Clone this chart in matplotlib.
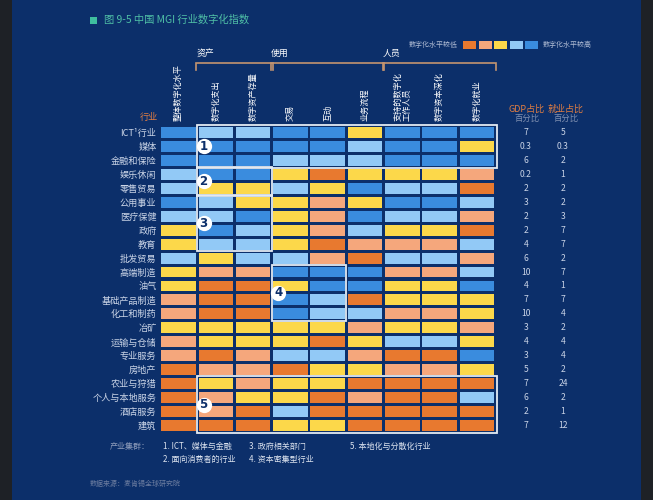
import matplotlib
matplotlib.use("Agg")
import matplotlib.pyplot as plt
import matplotlib.transforms as mtransforms
from matplotlib.patches import Rectangle
import numpy as np

plt.rcParams['font.family'] = ['Noto Sans CJK SC', 'DejaVu Sans']

# ---------------- data ----------------
title = "图 9-5 中国 MGI 行业数字化指数"
industries = ["ICT¹行业", "媒体", "金融和保险", "娱乐休闲", "零售贸易", "公用事业",
              "医疗保健", "政府", "教育", "批发贸易", "高端制造", "油气",
              "基础产品制造", "化工和制药", "冶矿", "运输与仓储", "专业服务",
              "房地产", "农业与狩猎", "个人与本地服务", "酒店服务", "建筑"]
columns = ["整体数字化水平", "数字化支出", "数字资产存量", "交易", "互动", "业务流程",
           "支持的数字化\n工作人员", "数字资本深化", "数字化就业"]
groups = ["资产", "使用", "人员"]
group_spans = [(1, 2), (3, 5), (6, 8)]

# level 1 = lowest digitisation (orange) ... 5 = highest (blue)
lvl_overall   = [5, 5, 5, 4, 4, 5, 4, 3, 3, 4, 3, 3, 2, 2, 3, 2, 2, 1, 1, 1, 1, 1]
lvl_spend     = [4, 5, 5, 5, 3, 4, 4, 5, 4, 3, 2, 1, 1, 1, 3, 3, 1, 2, 3, 2, 2, 1]
lvl_assets    = [4, 5, 5, 5, 3, 3, 5, 4, 4, 4, 2, 1, 1, 1, 3, 3, 2, 2, 2, 3, 1, 1]
lvl_trans     = [5, 5, 4, 3, 4, 3, 3, 3, 3, 4, 5, 3, 5, 5, 3, 3, 4, 1, 3, 3, 4, 3]
lvl_interact  = [5, 5, 4, 1, 3, 2, 2, 2, 1, 2, 5, 5, 4, 4, 3, 1, 4, 3, 3, 1, 1, 3]
lvl_process   = [3, 4, 4, 3, 5, 3, 5, 4, 2, 1, 5, 5, 1, 4, 2, 3, 2, 3, 1, 2, 1, 1]
lvl_workers   = [5, 5, 5, 3, 4, 5, 4, 3, 2, 4, 2, 3, 3, 2, 3, 4, 1, 2, 1, 1, 1, 1]
lvl_capital   = [5, 5, 5, 3, 4, 5, 4, 3, 2, 4, 2, 3, 3, 2, 3, 4, 1, 2, 1, 1, 1, 1]
lvl_employ    = [5, 3, 5, 2, 1, 4, 2, 1, 4, 2, 4, 5, 3, 3, 2, 3, 5, 3, 1, 4, 1, 1]
levels = [lvl_overall, lvl_spend, lvl_assets, lvl_trans, lvl_interact,
          lvl_process, lvl_workers, lvl_capital, lvl_employ]

gdp_share = [7, 0.3, 6, 0.2, 2, 3, 2, 2, 4, 6, 10, 4, 7, 10, 3, 4, 3, 5, 7, 6, 2, 7]
emp_share = [5, 0.3, 2, 1, 2, 2, 3, 7, 7, 2, 7, 1, 7, 4, 2, 4, 4, 2, 24, 2, 1, 12]

# clusters: (first col, last col, first row, last row, label)
clusters = [(1, 8, 0, 2, "1"), (1, 2, 3, 4, "2"), (1, 2, 5, 8, "3"),
            (3, 4, 10, 13, "4"), (1, 8, 18, 21, "5")]
cluster_names = ["1. ICT、媒体与金融", "2. 面向消费者的行业", "3. 政府相关部门",
                 "4. 资本密集型行业", "5. 本地化与分散化行业"]

# ---------------- style ----------------
palette = {1: "#E8792F", 2: "#F5A77C", 3: "#FCD84A", 4: "#92C9F6", 5: "#3A8CDE"}
navy = "#0C2F6A"
W, H = 653, 500

fig = plt.figure(figsize=(W / 100, H / 100), dpi=100, facecolor=navy)
for (a, b) in [(0, 12), (641, W)]:
    fig.patches.append(Rectangle((a / W, 0), (b - a) / W, 1, transform=fig.transFigure,
                                 facecolor="#1E2126", edgecolor="none", zorder=-10))


def fx(px):
    return px / W


def fy(py):
    return 1 - py / H


# grid axes
left_px, right_px = 159.9, 495.6
top_px, bot_px = 125.5, 432.5
ax = fig.add_axes([fx(left_px), fy(bot_px), (right_px - left_px) / W, (bot_px - top_px) / H])
ax.set_facecolor("none")
n = len(industries)
ax.set_xlim(-0.5, len(columns) - 0.5)
ax.set_ylim(n - 0.5, -0.5)
for s in ax.spines.values():
    s.set_visible(False)

rows = np.arange(n)
for j, col in enumerate(levels):
    ax.bar(np.full(n, j), 0.78, bottom=rows - 0.39, width=0.93,
           color=[palette[v] for v in col], edgecolor="none", zorder=2)

ax.set_xticks([])
ax.set_yticks(rows)
ax.set_yticklabels(industries, fontsize=6.6, color="#CBD5E7")
ax.tick_params(axis="y", length=0, pad=2.5)

# column labels (vertical)
bt = mtransforms.blended_transform_factory(ax.transData, fig.transFigure)
for j, name in enumerate(columns):
    ax.text(j, fy(121), name, transform=bt, rotation=90, ha="center", va="bottom",
            fontsize=5.9, color="white", multialignment="left", linespacing=1.0)

# group headers and brackets
bracket_color = "#C49470"
for g, (a, b) in zip(groups, group_spans):
    x0, x1 = a - 0.52, b + 0.52
    ax.plot([x0, x0, x1, x1], [fy(70), fy(63), fy(63), fy(70)], transform=bt,
            color=bracket_color, lw=1.2, clip_on=False, solid_joinstyle="miter")
    ax.text(x0, fy(53), g, transform=bt, ha="left", va="center", fontsize=6.4, color="white")

# cluster boxes
for (c0, c1, r0, r1, lab) in clusters:
    x0, x1 = c0 - 0.5, c1 + 0.5 + (0.04 if c1 == len(columns) - 1 else 0)
    y0, y1 = r0 - 0.52, r1 + 0.52
    ax.add_patch(Rectangle((x0, y0), x1 - x0, y1 - y0, fill=False, edgecolor="#E4EBF3",
                           lw=1.3, zorder=4, clip_on=False))
    cy = (r0 + r1) / 2
    ax.plot([x0 + 0.17], [cy], marker="o", markersize=11, color="white",
            markeredgecolor="none", zorder=5, clip_on=False)
    ax.text(x0 + 0.17, cy, lab, ha="center", va="center", fontsize=8.5,
            fontweight="bold", color=navy, zorder=6, family=["DejaVu Sans"])

# right-hand share columns
rt = mtransforms.blended_transform_factory(fig.transFigure, ax.transData)
for i in range(n):
    ax.text(fx(526), i, f"{gdp_share[i]:g}", transform=rt, ha="center", va="center",
            fontsize=6.2, color="#C9D3E6")
    ax.text(fx(563), i, f"{emp_share[i]:g}", transform=rt, ha="center", va="center",
            fontsize=6.2, color="#C9D3E6")

orange_txt = "#E07D42"
fig.text(fx(527), fy(109), "GDP占比", ha="center", va="center", fontsize=6.5, color=orange_txt)
fig.text(fx(566), fy(109), "就业占比", ha="center", va="center", fontsize=6.5, color=orange_txt)
fig.text(fx(527), fy(118), "百分比", ha="center", va="center", fontsize=6, color="#7F8FB0")
fig.text(fx(566), fy(118), "百分比", ha="center", va="center", fontsize=6, color="#7F8FB0")
fig.text(fx(158), fy(117), "行业", ha="right", va="center", fontsize=6.6, color=orange_txt)

# title
fig.patches.append(Rectangle((fx(90), fy(24)), 7 / W, 7 / H, transform=fig.transFigure,
                             facecolor="#3FBF9F", edgecolor="none"))
fig.text(fx(104), fy(20), title, ha="left", va="center", fontsize=7.4, color="#4FBFA6")

# legend
fig.text(fx(458), fy(45), "数字化水平较低", ha="right", va="center", fontsize=5, color="#AFBBD3")
for k in range(1, 6):
    fig.patches.append(Rectangle((fx(463 + (k - 1) * 15.5), fy(49)), 13 / W, 8 / H,
                                 transform=fig.transFigure, facecolor=palette[k],
                                 edgecolor="none"))
fig.text(fx(543), fy(45), "数字化水平较高", ha="left", va="center", fontsize=5, color="#AFBBD3")

# cluster legend at bottom
fig.text(fx(110), fy(446), "产业集群：", ha="left", va="center", fontsize=5.8, color="#8F9DBB")
pos = [(163, 446), (163, 459), (249, 446), (249, 459), (350, 446)]
for (px, py), name in zip(pos, cluster_names):
    fig.text(fx(px), fy(py), name, ha="left", va="center", fontsize=5.8, color="#DCE3EF")
fig.text(fx(90), fy(484), "数据来源：麦肯锡全球研究院", ha="left", va="center",
         fontsize=5, color="#6C7DA0")

fig.savefig("out.png", dpi=100, facecolor=fig.get_facecolor())
